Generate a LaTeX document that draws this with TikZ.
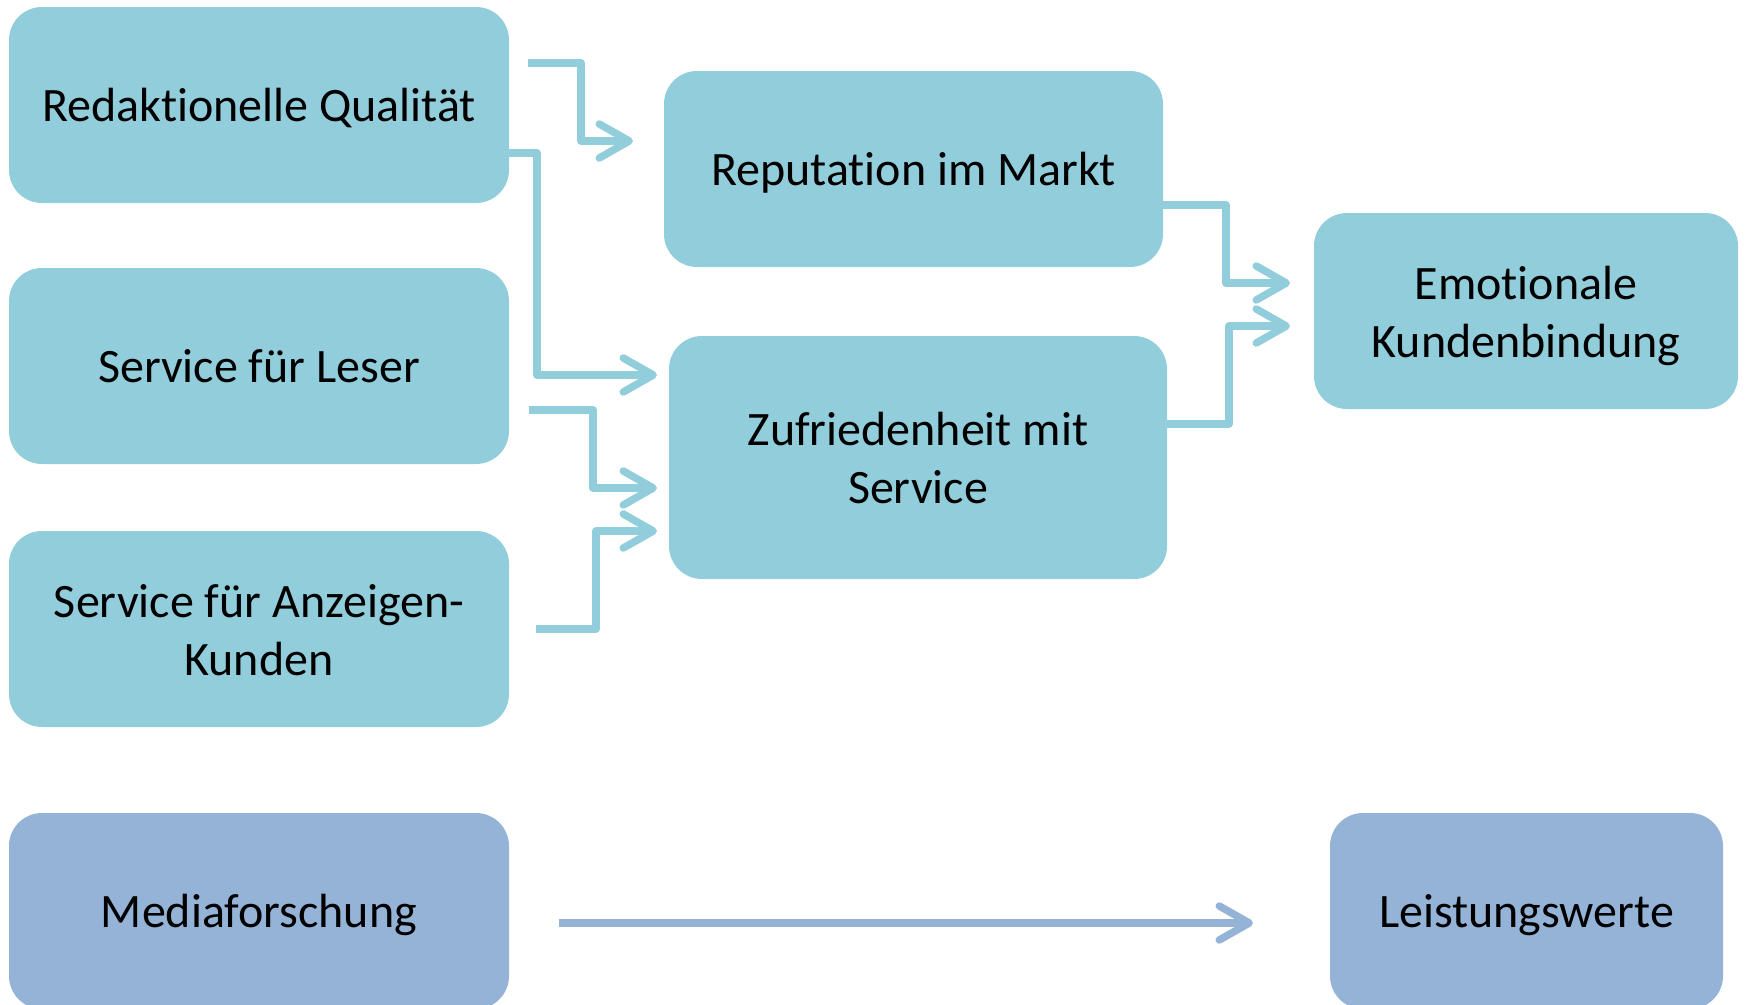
\documentclass[tikz,border=0pt]{standalone}
\usepackage{fontspec}
\setmainfont{Carlito}[Ligatures=CommonOff]
\usetikzlibrary{arrows.meta}
\definecolor{boxaqua}{RGB}{146,205,220}
\definecolor{boxblue}{RGB}{149,179,215}
\begin{document}
\begin{tikzpicture}[x=1pt,y=-1pt,
  card/.style={fill=boxaqua, rounded corners=33pt, inner sep=0pt, align=center,
    minimum width=500pt, minimum height=196pt,
    text height=40pt, text depth=8pt,
    font=\fontsize{48}{58}\selectfont},
  twolines/.style={text height=98pt, text depth=6pt},
  bluecard/.style={card, fill=boxblue},
  link/.style={draw=boxaqua, line width=7.5pt, line join=round,
    -{Straight Barb[length=30pt,width=34pt,round]}},
  bluelink/.style={link, draw=boxblue},
]
\useasboundingbox (0,0) rectangle (1745,1004);
\clip (0,0) rectangle (1745,1004);

% left column: drivers
\node[card] (qual) at (259,105) {Redaktionelle Qualität};
\node[card] (leser) at (259,366) {Service für Leser};
\node[card, twolines] (anz) at (259,629) {Service für Anzeigen-\\Kunden};
\node[bluecard] (media) at (259,911) {Mediaforschung};

% middle column
\node[card, minimum width=499pt] (rep) at (913.5,169) {Reputation im Markt};
\node[card, twolines, minimum width=498pt, minimum height=243pt] (zuf) at (918,457.5) {Zufriedenheit mit\\Service};

% right column
\node[card, twolines, minimum width=424pt] (emo) at (1526,311) {Emotionale\\Kundenbindung};
\node[bluecard, minimum width=393pt] (leist) at (1526.5,911) {Leistungswerte};

% free ends of the connectors
\coordinate (qualout) at (528,63);
\coordinate (repin) at (633,141);
\coordinate (zufinA) at (657,375);
\coordinate (leserout) at (529,410);
\coordinate (zufinB) at (657,488);
\coordinate (anzout) at (536,629);
\coordinate (zufinC) at (657,531);
\coordinate (emoinA) at (1290,283);
\coordinate (emoinB) at (1290,326);
\coordinate (mediaout) at (559,923);
\coordinate (leistin) at (1253,923);

% connectors
\draw[link] (qualout) -- (581,63) |- (repin);
\draw[link] (qual.east |- 0,153) -- (537,153) |- (zufinA);
\draw[link] (leserout) -- (593,410) |- (zufinB);
\draw[link] (anzout) -- (596,629) |- (zufinC);
\draw[link] (rep.east |- 0,205) -- (1226,205) |- (emoinA);
\draw[link] (zuf.east |- 0,424) -- (1229,424) |- (emoinB);
\draw[bluelink] (mediaout) -- (leistin);
\end{tikzpicture}
\end{document}
